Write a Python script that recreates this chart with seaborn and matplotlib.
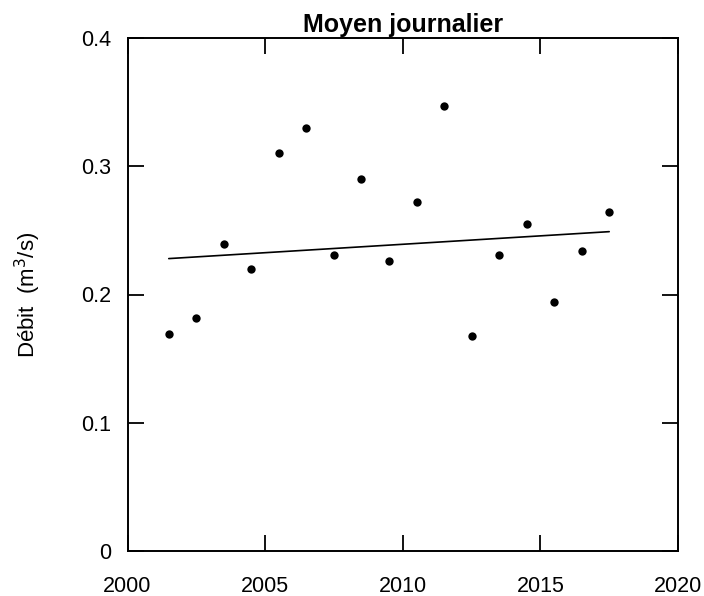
import matplotlib
matplotlib.use("Agg")
import matplotlib.pyplot as plt
import seaborn as sns
import pandas as pd

# Annual mean daily discharge (m3/s)
years = [2001.5, 2002.5, 2003.5, 2004.5, 2005.5, 2006.5, 2007.5, 2008.5, 2009.5,
         2010.5, 2011.5, 2012.5, 2013.5, 2014.5, 2015.5, 2016.5, 2017.5]
debit = [0.169, 0.182, 0.239, 0.220, 0.310, 0.330, 0.231, 0.290, 0.226,
         0.272, 0.347, 0.168, 0.231, 0.255, 0.194, 0.234, 0.264]

# Trend line end points
trend_years = [2001.5, 2017.5]
trend_values = [0.228, 0.249]

x_ticks = [2000, 2005, 2010, 2015, 2020]
y_ticks = [0, 0.1, 0.2, 0.3, 0.4]
y_tick_labels = ["0", "0.1", "0.2", "0.3", "0.4"]

sns.set_theme(style="white")
plt.rcParams["font.family"] = ["Liberation Sans", "DejaVu Sans"]

df = pd.DataFrame({"annee": years, "debit": debit})
trend = pd.DataFrame({"annee": trend_years, "debit": trend_values})

fig = plt.figure(figsize=(7.04, 5.96), dpi=100)
ax = fig.add_axes([127.5 / 704, 1 - 551 / 596, (678 - 127.5) / 704, (551 - 38) / 596])

sns.lineplot(data=trend, x="annee", y="debit", ax=ax, color="black", linewidth=1.2)
sns.scatterplot(data=df, x="annee", y="debit", ax=ax, color="black", s=36,
                linewidth=0, zorder=3)

ax.set_xlim(2000, 2020)
ax.set_ylim(0, 0.4)
ax.set_xticks(x_ticks)
ax.set_xticklabels([str(v) for v in x_ticks])
ax.set_yticks(y_ticks)
ax.set_yticklabels(y_tick_labels)

ax.tick_params(axis="both", direction="in", length=11.5, width=1.3, color="black",
               labelsize=15.5, labelcolor="black", top=True, right=True,
               bottom=True, left=True)
ax.tick_params(axis="x", pad=18)
ax.tick_params(axis="y", pad=12)

for sp in ax.spines.values():
    sp.set_visible(True)
    sp.set_color("black")
    sp.set_linewidth(1.4)

ax.set_xlabel("")
ax.set_ylabel("Débit  (m$^3$/s)", fontsize=16, color="black")
ax.yaxis.set_label_coords(-0.154, 0.5)
ax.set_title("Moyen journalier", fontsize=18, fontweight="bold", color="black", pad=4)

fig.savefig("out.png", dpi=100, facecolor="white")
